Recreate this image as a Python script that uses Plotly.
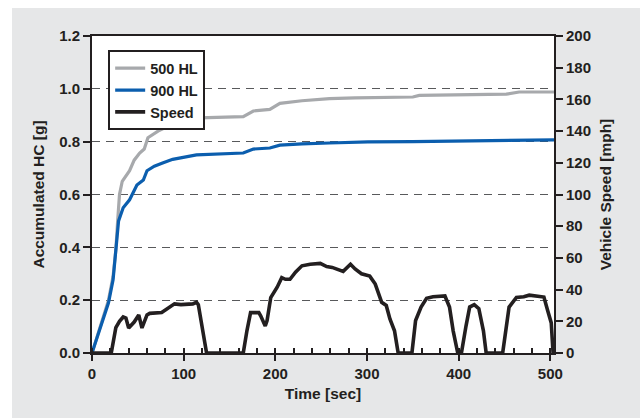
import plotly.graph_objects as go

# ---- data ----
hc500_t = [0, 9, 18, 23, 26, 28, 30, 33, 37, 41, 46, 52, 57, 61, 72, 88, 96, 117, 144, 165, 176, 194, 205, 229, 259, 287, 350, 357, 452, 466, 504]
hc500 = [0, 0.105, 0.20, 0.29, 0.39, 0.50, 0.60, 0.65, 0.67, 0.69, 0.73, 0.757, 0.772, 0.815, 0.84, 0.868, 0.88, 0.89, 0.892, 0.895, 0.916, 0.922, 0.945, 0.955, 0.963, 0.966, 0.969, 0.975, 0.98, 0.988, 0.988]

hc900_t = [0, 9, 18, 23, 26, 29, 34, 41, 49, 56, 60, 68, 77, 88, 114, 131, 165, 176, 194, 205, 229, 259, 301, 350, 435, 504]
hc900 = [0, 0.10, 0.19, 0.277, 0.38, 0.50, 0.55, 0.58, 0.636, 0.655, 0.69, 0.707, 0.719, 0.733, 0.75, 0.752, 0.757, 0.772, 0.776, 0.787, 0.792, 0.795, 0.799, 0.80, 0.804, 0.807]

speed_t = [0, 21, 26, 30, 34, 37, 40, 46, 51, 54.5, 60, 63, 76, 81, 90, 97, 104, 110, 114, 116, 125, 165, 169, 173, 182, 184, 189, 191, 195, 202, 207, 211, 216, 222, 229, 238, 249, 256, 262, 274, 282, 287, 294, 303, 309, 316, 321, 325, 330, 334, 349, 353, 359, 365, 372, 379, 385, 390, 394, 399, 403, 408, 412, 417, 422, 427, 430, 448, 455, 463, 471, 477, 486, 493, 497, 501, 503]
speed = [0, 0, 16, 20, 22.7, 22, 15.8, 19.5, 24, 15.8, 24, 25, 25.5, 27.5, 31, 30.5, 31, 31, 32, 30.5, 0, 0, 14, 25.5, 25.5, 23.5, 17, 20.5, 35, 41.5, 47.5, 46.5, 46.5, 51, 55, 56, 56.5, 54.5, 54, 51.5, 56, 53, 50, 48.5, 43.5, 32, 30, 21.5, 14, 0, 0, 20.5, 29, 34.5, 35.5, 36, 36, 29, 14, 0, 0, 17, 29, 30.5, 28, 14, 0, 0, 29, 35, 35.5, 36.5, 35.5, 35.3, 27, 19, 0]

hc_ticks = [0.0, 0.2, 0.4, 0.6, 0.8, 1.0, 1.2]
speed_ticks = [0, 20, 40, 60, 80, 100, 120, 140, 160, 180, 200]
time_ticks = [0, 100, 200, 300, 400, 500]

GRAY = "#a7a9ac"
BLUE = "#0b5eae"
BLACK = "#231f20"
FONT = "Liberation Sans, Arial, sans-serif"

fig = go.Figure()
fig.add_trace(go.Scatter(x=hc500_t, y=hc500, name="500 HL", mode="lines",
                         line=dict(color=GRAY, width=3.2)))
fig.add_trace(go.Scatter(x=hc900_t, y=hc900, name="900 HL", mode="lines",
                         line=dict(color=BLUE, width=3.2)))
fig.add_trace(go.Scatter(x=speed_t, y=speed, name="Speed", mode="lines", yaxis="y2",
                         line=dict(color=BLACK, width=3.6)))

tickfont = dict(family=FONT, size=15, color=BLACK, weight="bold")
titlefont = dict(family=FONT, size=15.5, color=BLACK, weight="bold")

fig.update_layout(
    width=640, height=418,
    margin=dict(l=92, r=86, t=36, b=65),
    paper_bgcolor="#e6e7e8",
    plot_bgcolor="white",
    showlegend=True,
    legend=dict(x=0.035, y=0.955, xanchor="left", yanchor="top",
                bgcolor="white", bordercolor=BLACK, borderwidth=2,
                font=dict(family=FONT, size=14.5, color=BLACK, weight="bold"),
                itemwidth=30, tracegroupgap=0),
    xaxis=dict(range=[0, 504], tickvals=time_ticks, ticks="outside", ticklen=6,
               tickwidth=1.5, tickcolor=BLACK,
               minor=dict(dtick=20, ticks="inside", ticklen=5, tickwidth=1.5, tickcolor=BLACK),
               showline=True, linecolor=BLACK, linewidth=2, mirror=True,
               showgrid=False, zeroline=False, tickfont=tickfont,
               title=dict(text="Time [sec]", font=titlefont, standoff=7)),
    yaxis=dict(range=[0, 1.2], tickvals=hc_ticks, tickformat=".1f", ticks="outside",
               ticklen=7, tickwidth=1.5, tickcolor=BLACK,
               showline=True, linecolor=BLACK, linewidth=2,
               showgrid=True, gridcolor="#58595b", gridwidth=1, griddash="8px,6px",
               zeroline=False, tickfont=tickfont,
               title=dict(text="Accumulated HC [g]", font=titlefont, standoff=11)),
    yaxis2=dict(range=[0, 200], tickvals=speed_ticks, overlaying="y", side="right",
                ticks="outside", ticklen=7, tickwidth=1.5, tickcolor=BLACK,
                showline=True, linecolor=BLACK, linewidth=2,
                showgrid=False, zeroline=False, tickfont=tickfont,
                title=dict(text="Vehicle Speed [mph]", font=titlefont, standoff=10)),
    shapes=[
        dict(type="rect", xref="paper", yref="paper", x0=-0.3, x1=1.3,
             y0=(353 - 8) / 317, y1=1.2, fillcolor="white", line=dict(width=0), layer="below"),
        dict(type="rect", xref="paper", yref="paper", x0=-0.3, x1=(12 - 92) / 462,
             y0=-0.3, y1=1.2, fillcolor="white", line=dict(width=0), layer="below"),
    ],
)

fig.write_html("out.html")
